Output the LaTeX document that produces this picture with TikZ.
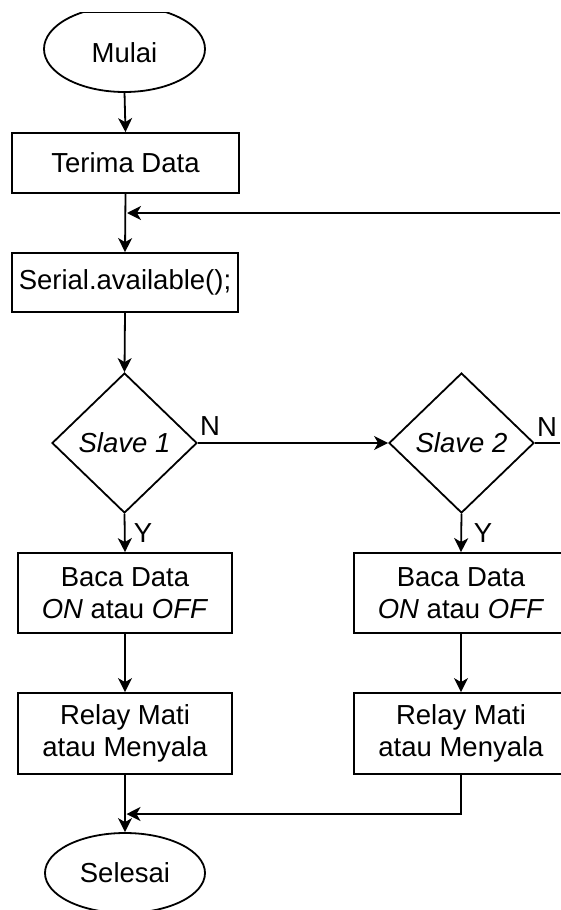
\documentclass[tikz,border=0pt]{standalone}
\usepackage{fontspec}
\setmainfont{Liberation Sans}
\usetikzlibrary{arrows.meta,shapes.geometric}

\begin{document}
\begin{tikzpicture}[x=1pt,y=-1pt,
  every node/.style={font=\fontsize{27.5}{32}\selectfont, align=center, inner sep=0pt},
  line/.style={line width=1.8pt, draw=black},
  flow/.style={line, -{Stealth[length=14pt,width=14pt,inset=4pt]}},
  procbox/.style={draw=black, line width=1.8pt, rectangle, minimum width=#1},
  procbox/.default=214pt,
  decision/.style={draw=black, line width=1.8pt, diamond, minimum width=145pt, minimum height=140pt},
  terminal/.style={draw=black, line width=1.8pt, ellipse},
  lbl/.style={font=\fontsize{27.5}{32}\selectfont}
]
\useasboundingbox (0,0) rectangle (560,910);

% start terminal (its top is cut off by the frame)
\begin{scope}
  \clip (0,12.5) rectangle (560,910);
  \node[terminal, minimum width=161pt, minimum height=86pt] (mulai) at (124.5,49) {};
\end{scope}
\draw[line] (82,12.5) -- (167,12.5);
\node at (124.5,53) {Mulai};

% main column
\node[procbox=227pt, minimum height=60pt] (terima) at (125.5,163) {Terima Data};
\node[procbox=226pt, minimum height=59pt] (serial) at (125,282.5) {Serial.available();};
\node[decision] (s1) at (124.5,443) {\textit{Slave 1}};
\node[procbox, minimum height=80pt] (baca1) at (125,593) {Baca Data\\\textit{ON} atau \textit{OFF}};
\node[procbox, minimum height=81pt] (relay1) at (125,733.5) {Relay Mati\\atau Menyala};

% second column
\node[decision] (s2) at (461.5,443) {\textit{Slave 2}};
\node[procbox, minimum height=80pt] (baca2) at (461,593) {Baca Data\\\textit{ON} atau \textit{OFF}};
\node[procbox, minimum height=81pt] (relay2) at (461,733.5) {Relay Mati\\atau Menyala};

% end terminal
\begin{scope}
  \clip (0,0) rectangle (560,910);
  \node[terminal, minimum width=160pt, minimum height=80pt] (selesai) at (125,873) {Selesai};
\end{scope}

% junction points
\coordinate (loopin) at (125.5,213);
\coordinate (loopfar) at (560,213);
\coordinate (s2out) at (560,443);
\coordinate (join) at (125,814);

% connectors
\draw[flow] (124.5,92) -- (terima.north);
\draw[flow] (terima.south) -- (serial.north);
\draw[flow, shorten >=1.5pt] (loopfar) -- (loopin);
\draw[flow] (serial.south) -- (s1.north);
\draw[flow] (s1.east) -- (s2.west);
\draw[line] (s2.east) -- (s2out);
\draw[flow] (s1.south) -- (baca1.north);
\draw[flow] (s2.south) -- (baca2.north);
\draw[flow] (baca1.south) -- (relay1.north);
\draw[flow] (baca2.south) -- (relay2.north);
\draw[flow] (relay1.south) -- (selesai.north);
\draw[flow, shorten >=1.5pt] (relay2.south) |- (join);

% branch labels
\node[lbl] at (210,426) {N};
\node[lbl] at (547,427) {N};
\node[lbl] at (143,533) {Y};
\node[lbl] at (483,533) {Y};
\end{tikzpicture}
\end{document}
